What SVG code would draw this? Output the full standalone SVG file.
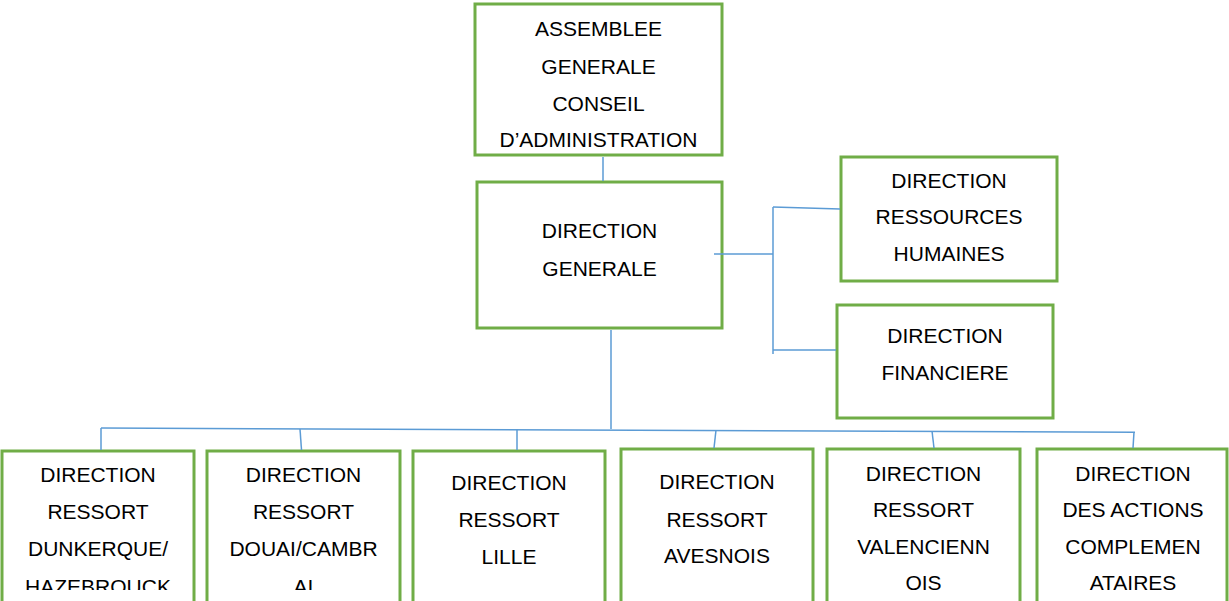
<svg xmlns="http://www.w3.org/2000/svg" width="1229" height="601" viewBox="0 0 1229 601">
<style>
.box{fill:#fff;stroke:#70AD47;stroke-width:3}
.t{font-family:"Liberation Sans",Arial,sans-serif;font-size:21px;fill:#000;text-anchor:middle}
.c{fill:none;stroke:#5B9BD5;stroke-width:1.5}
</style>
<defs>
<clipPath id="clipBottom"><rect x="0" y="440" width="1229" height="150"/></clipPath>
</defs>
<rect width="1229" height="601" fill="#fff"/>
<g id="assemblee">
<rect class="box" x="475" y="4" width="247" height="151"/>
<text class="t" x="598.5" y="36">ASSEMBLEE</text>
<text class="t" x="598.5" y="73.5">GENERALE</text>
<text class="t" x="598.5" y="111">CONSEIL</text>
<text class="t" x="598.5" y="146.5">D’ADMINISTRATION</text>
</g>
<g id="direction-generale">
<rect class="box" x="477" y="182" width="245" height="146"/>
<text class="t" x="599.5" y="238">DIRECTION</text>
<text class="t" x="599.5" y="276">GENERALE</text>
</g>
<g id="drh">
<rect class="box" x="841" y="157" width="216" height="124"/>
<text class="t" x="949" y="188">DIRECTION</text>
<text class="t" x="949" y="224">RESSOURCES</text>
<text class="t" x="949" y="261">HUMAINES</text>
</g>
<g id="df">
<rect class="box" x="837" y="305" width="216" height="113"/>
<text class="t" x="945" y="343">DIRECTION</text>
<text class="t" x="945" y="380">FINANCIERE</text>
</g>
<g id="dunkerque">
<rect class="box" x="2" y="451" width="192" height="160"/>
<g clip-path="url(#clipBottom)">
<text class="t" x="98" y="481.5">DIRECTION</text>
<text class="t" x="98" y="519">RESSORT</text>
<text class="t" x="98" y="556">DUNKERQUE/</text>
<text class="t" x="98" y="593.5">HAZEBROUCK</text>
</g>
</g>
<g id="douai">
<rect class="box" x="207" y="451" width="193" height="160"/>
<g clip-path="url(#clipBottom)">
<text class="t" x="303.5" y="481.5">DIRECTION</text>
<text class="t" x="303.5" y="519">RESSORT</text>
<text class="t" x="303.5" y="556">DOUAI/CAMBR</text>
<text class="t" x="303.5" y="593.5">AI</text>
</g>
</g>
<g id="lille">
<rect class="box" x="413" y="451" width="192" height="160"/>
<text class="t" x="509" y="490">DIRECTION</text>
<text class="t" x="509" y="527">RESSORT</text>
<text class="t" x="509" y="564">LILLE</text>
</g>
<g id="avesnois">
<rect class="box" x="621" y="449" width="192" height="160"/>
<text class="t" x="717" y="489">DIRECTION</text>
<text class="t" x="717" y="526.5">RESSORT</text>
<text class="t" x="717" y="563">AVESNOIS</text>
</g>
<g id="valenciennois">
<rect class="box" x="827" y="449" width="193" height="160"/>
<g clip-path="url(#clipBottom)">
<text class="t" x="923.5" y="480.5">DIRECTION</text>
<text class="t" x="923.5" y="517">RESSORT</text>
<text class="t" x="923.5" y="553.5">VALENCIENN</text>
<text class="t" x="923.5" y="590">OIS</text>
</g>
</g>
<g id="actions">
<rect class="box" x="1037" y="449" width="190" height="160"/>
<g clip-path="url(#clipBottom)">
<text class="t" x="1133" y="480.5">DIRECTION</text>
<text class="t" x="1133" y="517">DES ACTIONS</text>
<text class="t" x="1133" y="553.5">COMPLEMEN</text>
<text class="t" x="1133" y="590">ATAIRES</text>
</g>
</g>
<g id="connectors">
<line class="c" x1="603" y1="157" x2="603" y2="181"/>
<line class="c" x1="714" y1="254" x2="773" y2="254"/>
<line class="c" x1="773" y1="207" x2="773" y2="354"/>
<line class="c" x1="773" y1="207" x2="840" y2="209"/>
<line class="c" x1="773" y1="350" x2="836" y2="350"/>
<line class="c" x1="611" y1="330" x2="611" y2="429"/>
<line class="c" x1="101" y1="428" x2="1135" y2="432.3"/>
<line class="c" x1="101" y1="428" x2="101" y2="450"/>
<line class="c" x1="300" y1="429" x2="301.5" y2="450"/>
<line class="c" x1="517" y1="429.5" x2="517" y2="450"/>
<line class="c" x1="716" y1="430" x2="714" y2="448"/>
<line class="c" x1="932" y1="431" x2="934" y2="448"/>
<line class="c" x1="1134" y1="432" x2="1133" y2="448"/>
</g>
</svg>
